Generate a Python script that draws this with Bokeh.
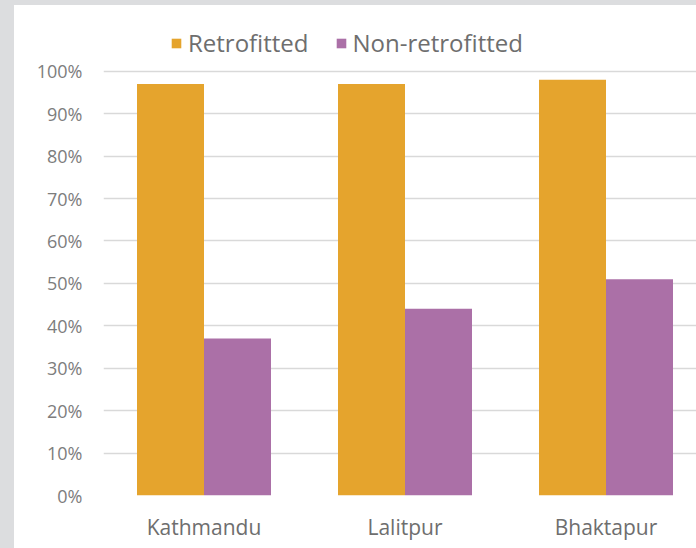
from bokeh.plotting import figure
from bokeh.models import (ColumnDataSource, Range1d, FixedTicker, PrintfTickFormatter,
                          Legend, LegendItem, Spacer)
from bokeh.layouts import row, column
from bokeh.embed import file_html
from bokeh.resources import INLINE

# ---- data ----
categories = ["Kathmandu", "Lalitpur", "Bhaktapur"]
retrofitted = [97, 97, 98]
non_retrofitted = [37, 44, 51]
series_names = ["Retrofitted", "Non-retrofitted"]
y_ticks = [0, 10, 20, 30, 40, 50, 60, 70, 80, 90, 100]

ORANGE = "#E5A42D"
PURPLE = "#AB70A7"
TEXT = "#6e6e6e"
GRAY_BG = "#dcdddf"
FONT = "Open Sans"

xpos = list(range(1, len(categories) + 1))
bw = 1 / 3
src = ColumnDataSource(dict(
    x_r=[x - bw / 2 for x in xpos],
    x_n=[x + bw / 2 for x in xpos],
    r=retrofitted,
    n=non_retrofitted,
))

LEFT_STRIP, TOP_STRIP = 14, 5
W, H = 696 - LEFT_STRIP, 548 - TOP_STRIP
p = figure(width=W, height=H, output_backend="svg", toolbar_location=None,
           x_range=Range1d(0.5, 0.5 + (W - 89) / 201.0),
           y_range=Range1d(0, 110.8),
           min_border_left=89, min_border_right=0, min_border_top=20,
           min_border_bottom=53)
p.outline_line_color = None
p.background_fill_color = "white"
p.border_fill_color = "white"

rr = p.vbar(x="x_r", top="r", width=bw, source=src, color=ORANGE, line_color=None)
rn = p.vbar(x="x_n", top="n", width=bw, source=src, color=PURPLE, line_color=None)

# axes
p.xaxis.ticker = FixedTicker(ticks=xpos)
p.xaxis.major_label_overrides = {x: c for x, c in zip(xpos, categories)}
p.xaxis.axis_line_color = None
p.xaxis.major_tick_line_color = None
p.xaxis.minor_tick_line_color = None
p.xaxis.major_tick_out = 0
p.xaxis.major_tick_in = 0
p.xaxis.minor_tick_out = 0
p.xaxis.major_label_standoff = 17
p.xaxis.major_label_text_font = FONT
p.xaxis.major_label_text_font_size = "21px"
p.xaxis.major_label_text_color = TEXT

p.yaxis.ticker = FixedTicker(ticks=y_ticks)
p.yaxis.formatter = PrintfTickFormatter(format="%d%%")
p.yaxis.axis_line_color = None
p.yaxis.major_tick_line_color = None
p.yaxis.minor_tick_line_color = None
p.yaxis.major_tick_out = 0
p.yaxis.major_tick_in = 0
p.yaxis.minor_tick_out = 0
p.yaxis.major_label_standoff = 21
p.yaxis.major_label_text_font = FONT
p.yaxis.major_label_text_font_size = "18px"
p.yaxis.major_label_text_color = "#7d7d7d"

p.xgrid.grid_line_color = None
p.ygrid.grid_line_color = "#d9d9d9"
p.ygrid.grid_line_width = 1.5

legend = Legend(items=[LegendItem(label=series_names[0], renderers=[rr]),
                       LegendItem(label=series_names[1], renderers=[rn])],
                orientation="horizontal", location=(67, 436))
legend.label_text_font = FONT
legend.label_text_font_size = "24px"
legend.label_text_color = TEXT
legend.glyph_width = 12
legend.glyph_height = 12
legend.label_standoff = 6
legend.spacing = 26
legend.border_line_color = None
legend.background_fill_alpha = 0
legend.padding = 0
legend.margin = 0
p.add_layout(legend)

top_strip = Spacer(width=696, height=TOP_STRIP, styles={"background-color": GRAY_BG})
left_strip = Spacer(width=LEFT_STRIP, height=H, styles={"background-color": GRAY_BG})
layout = column(top_strip, row(left_strip, p))

open("out.html", "w").write(file_html(layout, INLINE))
